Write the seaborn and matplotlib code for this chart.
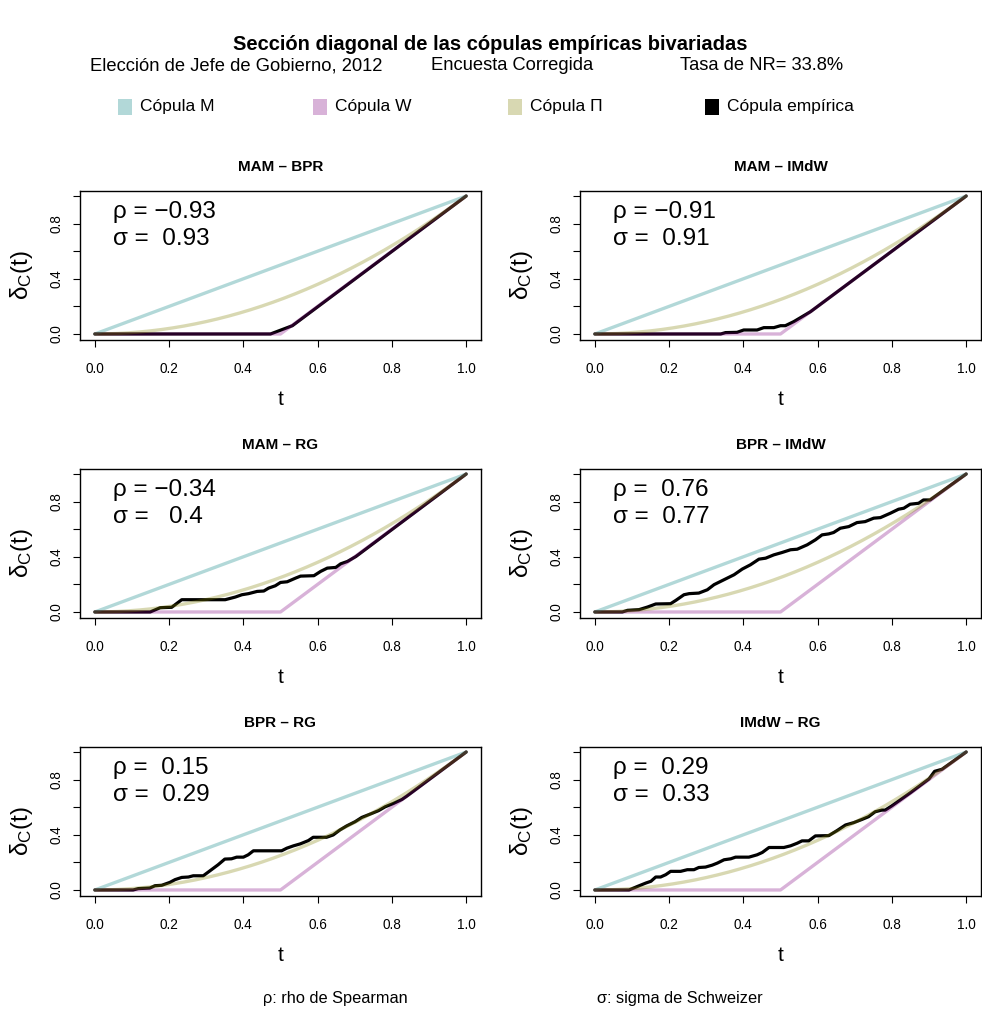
import numpy as np
import matplotlib
matplotlib.use("Agg")
import matplotlib.pyplot as plt
import seaborn as sns
from matplotlib.patches import Rectangle

sns.set_theme(style="ticks")
plt.rcParams['font.family'] = ['Liberation Sans', 'DejaVu Sans']
plt.rcParams['mathtext.fontset'] = 'custom'
plt.rcParams['mathtext.rm'] = 'Liberation Sans'
plt.rcParams['mathtext.it'] = 'Liberation Sans'
plt.rcParams['text.color'] = 'black'
plt.rcParams['axes.labelcolor'] = 'black'
plt.rcParams['xtick.color'] = 'black'
plt.rcParams['ytick.color'] = 'black'

# -----------------------------
# data
# -----------------------------
pair_titles = ["MAM \u2013 BPR", "MAM \u2013 IMdW", "MAM \u2013 RG",
               "BPR \u2013 IMdW", "BPR \u2013 RG", "IMdW \u2013 RG"]
rho_vals = [-0.93, -0.91, -0.34, 0.76, 0.15, 0.29]
sigma_vals = [0.93, 0.91, 0.4, 0.77, 0.29, 0.33]

# empirical diagonal sections (t, delta_C(t))
t_mam_bpr = [0, 0.473, 0.532, 1.0]
d_mam_bpr = [0, 0, 0.06, 1.0]

t_mam_imdw = [0, 0.339, 0.352, 0.383, 0.401, 0.437, 0.455, 0.482, 0.50, 0.513,
              0.536, 0.558, 0.581, 1.0]
d_mam_imdw = [0, 0, 0.01, 0.012, 0.029, 0.029, 0.046, 0.046, 0.06, 0.06,
              0.09, 0.125, 0.162, 1.0]

t_mam_rg = [0, 0.149, 0.176, 0.207, 0.234, 0.351, 0.378, 0.396, 0.414, 0.437,
            0.455, 0.468, 0.486, 0.50, 0.518, 0.541, 0.554, 0.59, 0.608, 0.626,
            0.649, 0.662, 0.68, 0.703, 1.0]
d_mam_rg = [0, 0, 0.031, 0.034, 0.089, 0.089, 0.108, 0.125, 0.133, 0.149,
            0.152, 0.173, 0.19, 0.214, 0.219, 0.246, 0.26, 0.263, 0.294, 0.318,
            0.323, 0.349, 0.366, 0.402, 1.0]

t_bpr_imdw = [0, 0.074, 0.088, 0.119, 0.142, 0.164, 0.204, 0.218, 0.240, 0.254,
              0.280, 0.303, 0.321, 0.339, 0.357, 0.375, 0.397, 0.419, 0.442, 0.460,
              0.482, 0.504, 0.527, 0.545, 0.572, 0.594, 0.612, 0.630, 0.643, 0.661,
              0.684, 0.706, 0.728, 0.751, 0.769, 0.796, 0.818, 0.832, 0.849, 0.872,
              0.885, 0.903, 1.0]
d_bpr_imdw = [0, 0, 0.012, 0.017, 0.036, 0.058, 0.06, 0.084, 0.125, 0.133,
              0.137, 0.161, 0.198, 0.222, 0.246, 0.270, 0.311, 0.342, 0.383, 0.390,
              0.414, 0.431, 0.451, 0.455, 0.487, 0.523, 0.559, 0.566, 0.576, 0.607,
              0.619, 0.648, 0.655, 0.680, 0.684, 0.716, 0.745, 0.752, 0.781, 0.788,
              0.812, 0.812, 1.0]

t_bpr_rg = [0, 0.103, 0.117, 0.148, 0.162, 0.180, 0.202, 0.216, 0.234, 0.252,
            0.265, 0.292, 0.310, 0.332, 0.350, 0.368, 0.382, 0.400, 0.413, 0.427,
            0.503, 0.517, 0.535, 0.553, 0.575, 0.588, 0.624, 0.642, 0.660, 0.678,
            0.701, 0.719, 0.746, 0.764, 0.782, 0.804, 0.827, 0.840, 1.0]
d_bpr_rg = [0, 0, 0.010, 0.014, 0.031, 0.034, 0.055, 0.075, 0.091, 0.094,
            0.103, 0.103, 0.139, 0.183, 0.224, 0.226, 0.238, 0.238, 0.255, 0.284,
            0.284, 0.303, 0.320, 0.334, 0.358, 0.382, 0.382, 0.399, 0.435, 0.464,
            0.495, 0.526, 0.555, 0.575, 0.603, 0.627, 0.656, 0.680, 1.0]

t_imdw_rg = [0, 0.092, 0.115, 0.137, 0.151, 0.164, 0.177, 0.191, 0.204, 0.231,
             0.249, 0.267, 0.280, 0.298, 0.316, 0.330, 0.348, 0.366, 0.379, 0.415,
             0.437, 0.451, 0.469, 0.509, 0.527, 0.545, 0.558, 0.576, 0.594, 0.630,
             0.652, 0.675, 0.697, 0.720, 0.737, 0.755, 0.773, 0.782, 0.80, 0.85,
             0.90, 0.915, 0.935, 1.0]
d_imdw_rg = [0, 0, 0.026, 0.050, 0.063, 0.094, 0.094, 0.111, 0.135, 0.135,
             0.147, 0.147, 0.163, 0.166, 0.180, 0.195, 0.219, 0.226, 0.238, 0.238,
             0.255, 0.272, 0.308, 0.308, 0.320, 0.339, 0.356, 0.356, 0.392, 0.394,
             0.430, 0.471, 0.488, 0.512, 0.531, 0.567, 0.579, 0.579, 0.61, 0.705,
             0.805, 0.86, 0.875, 1.0]

emp_t = [t_mam_bpr, t_mam_imdw, t_mam_rg, t_bpr_imdw, t_bpr_rg, t_imdw_rg]
emp_d = [d_mam_bpr, d_mam_imdw, d_mam_rg, d_bpr_imdw, d_bpr_rg, d_imdw_rg]

legend_labels = ["C\u00f3pula M", "C\u00f3pula W", "C\u00f3pula \u03a0", "C\u00f3pula emp\u00edrica"]
col_M = (0, 0.5, 0.5, 0.3)
col_W = (0.5, 0, 0.5, 0.3)
col_P = (0.5, 0.5, 0, 0.3)
legend_colors = [col_M, col_W, col_P, "black"]

# theoretical copula diagonals (definitions of M, W and Pi)
tt = np.linspace(0, 1, 201)
diag_M = tt
diag_W = np.maximum(2 * tt - 1, 0)
diag_P = tt ** 2

# -----------------------------
# figure
# -----------------------------
W, H = 982, 1011
fig = plt.figure(figsize=(W / 100, H / 100), dpi=100)

fig.text(490 / W, 1 - 44 / H, "Secci\u00f3n diagonal de las c\u00f3pulas emp\u00edricas bivariadas",
         ha="center", va="center", fontsize=14.5, fontweight="bold")
fig.text(236 / W, 1 - 66 / H, "Elecci\u00f3n de Jefe de Gobierno, 2012", ha="center", va="center", fontsize=13.2)
fig.text(512 / W, 1 - 66 / H, "Encuesta Corregida", ha="center", va="center", fontsize=13.2)
fig.text(762 / W, 1 - 66 / H, "Tasa de NR= 33.8%", ha="center", va="center", fontsize=13.2)

# legend row
for lab, col, x0 in zip(legend_labels, legend_colors, [118, 313, 508, 705]):
    fig.add_artist(Rectangle((x0 / W, 1 - 115 / H), 14 / W, 16 / H,
                             transform=fig.transFigure, facecolor=col, edgecolor="none"))
    fig.text((x0 + 22) / W, 1 - 107 / H, lab, ha="left", va="center", fontsize=12.5)

col_left = [80, 580]
row_top = [190.5, 468.5, 746.5]

for i in range(6):
    r, c = divmod(i, 2)
    ax = fig.add_axes([col_left[c] / W, 1 - (row_top[r] + 149) / H, 401 / W, 149 / H])

    sns.lineplot(x=emp_t[i], y=emp_d[i], ax=ax, color="black", lw=2.3,
                 sort=False, estimator=None, zorder=2)
    sns.lineplot(x=tt, y=diag_M, ax=ax, color=col_M, lw=2.4, zorder=3)
    sns.lineplot(x=tt, y=diag_W, ax=ax, color=col_W, lw=2.4, zorder=3)
    sns.lineplot(x=tt, y=diag_P, ax=ax, color=col_P, lw=2.4, zorder=3)

    ax.set_xlim(-0.04, 1.04)
    ax.set_ylim(-0.04, 1.04)
    ax.set_xticks([0, 0.2, 0.4, 0.6, 0.8, 1.0])
    ax.set_xticklabels(["0.0", "0.2", "0.4", "0.6", "0.8", "1.0"])
    ax.set_yticks([0, 0.2, 0.4, 0.6, 0.8, 1.0])
    ax.set_yticklabels(["0.0", "", "0.4", "", "0.8", ""], rotation=90, va="center")
    ax.tick_params(axis="both", direction="out", length=5, width=0.8, colors="black",
                   labelsize=9.8)
    ax.tick_params(axis="x", pad=11)
    ax.tick_params(axis="y", pad=7)
    for s in ax.spines.values():
        s.set_visible(True)
        s.set_linewidth(1.0)
        s.set_color("black")

    ax.set_title(pair_titles[i], fontsize=11, fontweight="bold", pad=14)
    ax.set_xlabel("t", fontsize=15)
    ax.xaxis.set_label_coords(0.5, -0.4)
    ax.xaxis.label.set_va("center")
    ax.set_ylabel(r"$\delta_{\rm C}(\rm t)$", fontsize=17.5)
    ax.yaxis.set_label_coords(-0.145, 0.43)
    ax.yaxis.label.set_va("center")

    rho_s = f"{rho_vals[i]:g}".rjust(5).replace("-", "\u2212")
    sig_s = f"{sigma_vals[i]:g}".rjust(5).replace("-", "\u2212")
    ax.text(0.05, 0.84, "\u03c1 = " + rho_s, fontsize=17.5, ha="left", va="baseline")
    ax.text(0.05, 0.645, "\u03c3 = " + sig_s, fontsize=17.5, ha="left", va="baseline")

fig.text(335 / W, 1 - 998 / H, "\u03c1: rho de Spearman", ha="center", va="center", fontsize=11.8)
fig.text(680 / W, 1 - 998 / H, "\u03c3: sigma de Schweizer", ha="center", va="center", fontsize=11.8)

fig.savefig("out.png", dpi=100)
